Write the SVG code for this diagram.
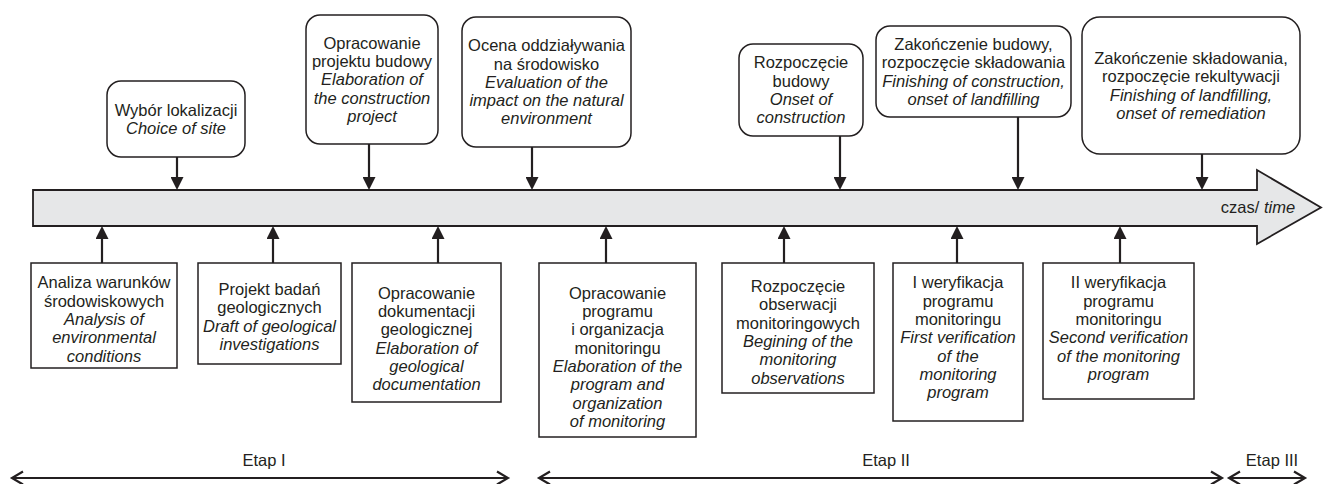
<svg xmlns="http://www.w3.org/2000/svg" width="1323" height="484" viewBox="0 0 1323 484">
<style>
text{font-family:"Liberation Sans",Arial,sans-serif;font-size:16.5px;fill:#231f20;text-anchor:middle}
.it{font-style:italic}
.box{fill:#fff;stroke:#231f20;stroke-width:1.5}
.con{stroke:#231f20;stroke-width:2.2;fill:none}
.stage{stroke:#231f20;stroke-width:2.2;fill:none}
</style>
<defs>
<marker id="ah" markerUnits="userSpaceOnUse" markerWidth="13" markerHeight="13" refX="0" refY="6.5" orient="auto" viewBox="0 0 13 13">
<path d="M0,0 L13,6.5 L0,13 Z" fill="#231f20"/>
</marker>
</defs>
<g id="timeline">
<path d="M33,190 H1257 V170 L1321,207.5 L1257,244 V226 H33 Z" fill="#e6e7e8" stroke="#231f20" stroke-width="1.8"/>
<text x="1258" y="213"><tspan>czas/ </tspan><tspan class="it">time</tspan></text>
</g>
<g id="connectors">
<line class="con" x1="177" y1="157" x2="177" y2="177" marker-end="url(#ah)"/>
<line class="con" x1="369" y1="144" x2="369" y2="177" marker-end="url(#ah)"/>
<line class="con" x1="532" y1="147" x2="532" y2="177" marker-end="url(#ah)"/>
<line class="con" x1="840" y1="136" x2="840" y2="177" marker-end="url(#ah)"/>
<line class="con" x1="1018" y1="117" x2="1018" y2="177" marker-end="url(#ah)"/>
<line class="con" x1="1202" y1="154" x2="1202" y2="177" marker-end="url(#ah)"/>
<line class="con" x1="102" y1="263" x2="102" y2="239" marker-end="url(#ah)"/>
<line class="con" x1="273" y1="263" x2="273" y2="239" marker-end="url(#ah)"/>
<line class="con" x1="438" y1="263" x2="438" y2="239" marker-end="url(#ah)"/>
<line class="con" x1="606" y1="263" x2="606" y2="239" marker-end="url(#ah)"/>
<line class="con" x1="784" y1="263" x2="784" y2="239" marker-end="url(#ah)"/>
<line class="con" x1="957" y1="263" x2="957" y2="239" marker-end="url(#ah)"/>
<line class="con" x1="1120" y1="263" x2="1120" y2="239" marker-end="url(#ah)"/>
</g>
<g id="top1">
<rect class="box" x="107" y="81" width="138" height="76" rx="14"/>
<text x="176" y="116">Wybór lokalizacji</text>
<text class="it" x="176" y="134.3">Choice of site</text>
</g>
<g id="top2">
<rect class="box" x="306" y="15" width="132" height="129" rx="14"/>
<text x="372" y="48.7">Opracowanie</text>
<text x="372" y="67">projektu budowy</text>
<text class="it" x="372" y="85.3">Elaboration of</text>
<text class="it" x="372" y="103.6">the construction</text>
<text class="it" x="372" y="121.9">project</text>
</g>
<g id="top3">
<rect class="box" x="462" y="17" width="169" height="130" rx="14"/>
<text x="546.5" y="51.2">Ocena oddziaływania</text>
<text x="546.5" y="69.5">na środowisko</text>
<text class="it" x="546.5" y="87.8">Evaluation of the</text>
<text class="it" x="546.5" y="106.1">impact on the natural</text>
<text class="it" x="546.5" y="124.4">environment</text>
</g>
<g id="top4">
<rect class="box" x="739" y="44" width="124" height="92" rx="14"/>
<text x="801" y="68.4">Rozpoczęcie</text>
<text x="801" y="86.7">budowy</text>
<text class="it" x="801" y="105">Onset of</text>
<text class="it" x="801" y="123.3">construction</text>
</g>
<g id="top5">
<rect class="box" x="876" y="26" width="195" height="91" rx="14"/>
<text x="973.5" y="49.9">Zakończenie budowy,</text>
<text x="973.5" y="68.2">rozpoczęcie składowania</text>
<text class="it" x="973.5" y="86.5">Finishing of construction,</text>
<text class="it" x="973.5" y="104.8">onset of landfilling</text>
</g>
<g id="top6">
<rect class="box" x="1082" y="17" width="218" height="137" rx="18"/>
<text x="1191" y="63.9">Zakończenie składowania,</text>
<text x="1191" y="82.2">rozpoczęcie rekultywacji</text>
<text class="it" x="1191" y="100.5">Finishing of landfilling,</text>
<text class="it" x="1191" y="118.8">onset of remediation</text>
</g>
<g id="bot1">
<rect class="box" x="31" y="263" width="146" height="105"/>
<text x="104" y="288.3">Analiza warunków</text>
<text x="104" y="306.6">środowiskowych</text>
<text class="it" x="104" y="324.9">Analysis of</text>
<text class="it" x="104" y="343.2">environmental</text>
<text class="it" x="104" y="361.5">conditions</text>
</g>
<g id="bot2">
<rect class="box" x="198" y="263" width="143" height="101"/>
<text x="269.5" y="295">Projekt badań</text>
<text x="269.5" y="313.3">geologicznych</text>
<text class="it" x="269.5" y="331.6">Draft of geological</text>
<text class="it" x="269.5" y="349.9">investigations</text>
</g>
<g id="bot3">
<rect class="box" x="352" y="263" width="149" height="139"/>
<text x="426.5" y="298.7">Opracowanie</text>
<text x="426.5" y="317">dokumentacji</text>
<text x="426.5" y="335.3">geologicznej</text>
<text class="it" x="426.5" y="353.6">Elaboration of</text>
<text class="it" x="426.5" y="371.9">geological</text>
<text class="it" x="426.5" y="390.2">documentation</text>
</g>
<g id="bot4">
<rect class="box" x="539" y="263" width="157" height="174"/>
<text x="617.5" y="298.7">Opracowanie</text>
<text x="617.5" y="317">programu</text>
<text x="617.5" y="335.3">i organizacja</text>
<text x="617.5" y="353.6">monitoringu</text>
<text class="it" x="617.5" y="371.9">Elaboration of the</text>
<text class="it" x="617.5" y="390.2">program and</text>
<text class="it" x="617.5" y="408.5">organization</text>
<text class="it" x="617.5" y="426.8">of monitoring</text>
</g>
<g id="bot5">
<rect class="box" x="722" y="263" width="152" height="130"/>
<text x="798" y="292">Rozpoczęcie</text>
<text x="798" y="310.3">obserwacji</text>
<text x="798" y="328.6">monitoringowych</text>
<text class="it" x="798" y="346.9">Begining of the</text>
<text class="it" x="798" y="365.2">monitoring</text>
<text class="it" x="798" y="383.5">observations</text>
</g>
<g id="bot6">
<rect class="box" x="893" y="263" width="130" height="158"/>
<text x="958" y="288.3">I weryfikacja</text>
<text x="958" y="306.6">programu</text>
<text x="958" y="324.9">monitoringu</text>
<text class="it" x="958" y="343.2">First verification</text>
<text class="it" x="958" y="361.5">of the</text>
<text class="it" x="958" y="379.8">monitoring</text>
<text class="it" x="958" y="398.1">program</text>
</g>
<g id="bot7">
<rect class="box" x="1043" y="263" width="151" height="136"/>
<text x="1118.5" y="288.3">II weryfikacja</text>
<text x="1118.5" y="306.6">programu</text>
<text x="1118.5" y="324.9">monitoringu</text>
<text class="it" x="1118.5" y="343.2">Second verification</text>
<text class="it" x="1118.5" y="361.5">of the monitoring</text>
<text class="it" x="1118.5" y="379.8">program</text>
</g>
<g id="stages">
<path class="stage" d="M12,478 H508 M23,471.5 L12,478 L23,484.5 M497,471.5 L508,478 L497,484.5"/>
<path class="stage" d="M539,478 H1222 M550,471.5 L539,478 L550,484.5 M1211,471.5 L1222,478 L1211,484.5"/>
<path class="stage" d="M1229,478 H1305 M1240,471.5 L1229,478 L1240,484.5 M1294,471.5 L1305,478 L1294,484.5"/>
<text x="264" y="466">Etap I</text>
<text x="886" y="466">Etap II</text>
<text x="1272" y="466">Etap III</text>
</g>
</svg>
